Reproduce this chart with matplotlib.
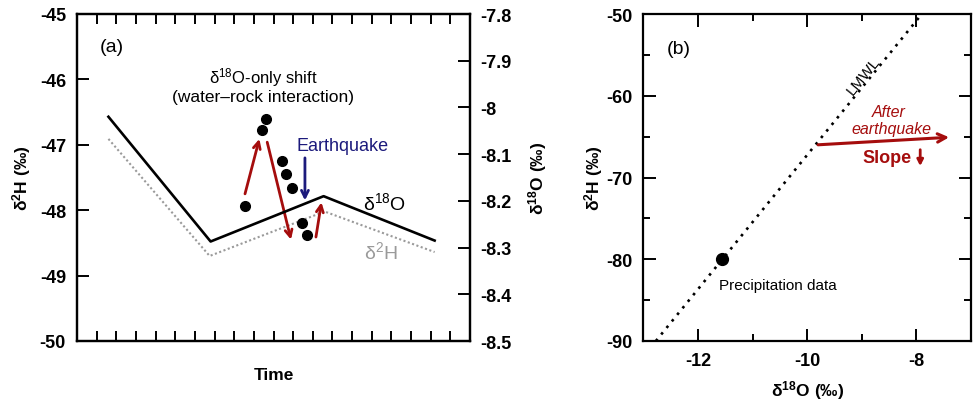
import matplotlib
matplotlib.use("Agg")
import matplotlib.pyplot as plt
from matplotlib.ticker import MultipleLocator, FixedLocator

plt.rcParams['font.family'] = ['Liberation Sans', 'DejaVu Sans']
plt.rcParams['mathtext.fontset'] = 'custom'
plt.rcParams['mathtext.rm'] = 'Liberation Sans'
plt.rcParams['mathtext.it'] = 'Liberation Sans:italic'
plt.rcParams['mathtext.bf'] = 'Liberation Sans:bold'
plt.rcParams['axes.unicode_minus'] = False

# ---------------- data: panel (a) ----------------
time_o18 = [1.6, 6.8, 12.55, 18.2]
o18_line = [-8.02, -8.287, -8.19, -8.285]          # right axis (δ18O)
time_h2 = [1.6, 6.75, 12.6, 18.2]
h2_line = [-46.91, -48.70, -48.02, -48.64]         # left axis (δ2H)
dots_time = [8.57, 9.41, 9.62, 10.43, 10.66, 10.94, 11.45, 11.71]
dots_o18 = [-8.210, -8.049, -8.024, -8.115, -8.143, -8.173, -8.248, -8.274]
# annotation arrows (tail -> tip), left-axis coordinates
red_arrows_a = [((8.55, -47.75), (9.28, -46.91)),
                ((9.68, -46.96), (10.89, -48.45)),
                ((12.16, -48.41), (12.44, -47.88))]
quake_arrow = ((11.60, -47.20), (11.60, -47.85))

# ---------------- data: panel (b) ----------------
lmwl_x = [-12.77, -7.90]
lmwl_y = [-90.0, -50.0]
precip_x = [-11.55]
precip_y = [-80.0]
after_arrow = ((-9.80, -66.0), (-7.40, -65.08))
slope_arrow = ((-7.93, -66.6), (-7.93, -68.6))

RED = '#A50D0D'
NAVY = '#1C1A7C'
GREY = '#9A9A9A'

fig = plt.figure(figsize=(9.75, 4.02), dpi=100)

# ================= panel (a) =================
axa = fig.add_axes([77/975, 60/402, 393/975, 327/402])
axa.set_xlim(0, 20)
axa.set_ylim(-50, -45)
axb2 = axa.twinx()
axb2.set_ylim(-8.5, -7.8)

axa.plot(time_h2, h2_line, color=GREY, lw=1.5, ls=(0, (1, 1.2)))
axb2.plot(time_o18, o18_line, color='black', lw=1.9)
axb2.plot(dots_time, dots_o18, 'o', color='black', ms=7)

for (t, h) in red_arrows_a:
    axa.annotate('', xy=h, xytext=t,
                 arrowprops=dict(arrowstyle='->,head_length=0.5,head_width=0.25',
                                 color=RED, lw=2, shrinkA=0, shrinkB=0))
axa.annotate('', xy=quake_arrow[1], xytext=quake_arrow[0],
             arrowprops=dict(arrowstyle='->,head_length=0.5,head_width=0.25',
                             color=NAVY, lw=2, shrinkA=0, shrinkB=0))

axa.text(1.78, -45.50, '(a)', fontsize=14, ha='center', va='center')
axa.text(9.47, -45.96, 'δ$^{18}$O-only shift', fontsize=12, ha='center', va='center')
axa.text(9.47, -46.26, '(water–rock interaction)', fontsize=12.5, ha='center', va='center')
axa.text(13.49, -47.01, 'Earthquake', fontsize=13, color=NAVY, ha='center', va='center')
axa.text(15.67, -47.88, 'δ$^{18}$O', fontsize=14, ha='center', va='center')
axa.text(15.47, -48.63, 'δ$^{2}$H', fontsize=14, color=GREY, ha='center', va='center')

axa.xaxis.set_major_locator(FixedLocator(list(range(1, 20))))
axa.tick_params(axis='x', which='both', direction='in', top=True, bottom=True,
                length=7, width=1.4, labelbottom=False)
axa.yaxis.set_major_locator(MultipleLocator(1))
axa.tick_params(axis='y', direction='in', length=8.5, width=1.4, right=False,
                labelsize=13, pad=8)
axb2.tick_params(axis='y', direction='in', length=9, width=1.4,
                 labelsize=13, pad=7.5)
axb2.set_yticks([-8.5, -8.4, -8.3, -8.2, -8.1, -8.0, -7.9, -7.8])
axb2.set_yticklabels(['-8.5', '-8.4', '-8.3', '-8.2', '-8.1', '-8', '-7.9', '-7.8'])
for lab in axa.get_yticklabels() + axb2.get_yticklabels():
    lab.set_fontweight('bold')
for ax in (axa, axb2):
    for s in ax.spines.values():
        s.set_linewidth(1.6)

axa.set_xlabel('Time', fontsize=12.5, fontweight='bold')
axa.xaxis.set_label_coords(0.5, -0.101)
axa.xaxis.label.set_va('center')
axa.set_ylabel('δ$^{\\mathbf{2}}$H (‰)', fontsize=12.5, fontweight='bold')
axa.yaxis.set_label_coords(-0.112, 0.5)
axb2.set_ylabel('δ$^{\\mathbf{18}}$O (‰)', fontsize=12.5, fontweight='bold')
axb2.yaxis.set_label_coords(1.143, 0.5)

# ================= panel (b) =================
axb = fig.add_axes([643.3/975, 60/402, 327.7/975, 327/402])
axb.set_xlim(-13, -7)
axb.set_ylim(-90, -50)
axb.plot(lmwl_x, lmwl_y, color='black', lw=1.9, ls=(0, (1, 2.2)))
axb.plot(precip_x, precip_y, 'o', color='black', ms=8.5)
axb.annotate('', xy=after_arrow[1], xytext=after_arrow[0],
             arrowprops=dict(arrowstyle='->,head_length=0.6,head_width=0.3',
                             color=RED, lw=2.2, shrinkA=0, shrinkB=0))
axb.annotate('', xy=slope_arrow[1], xytext=slope_arrow[0],
             arrowprops=dict(arrowstyle='-|>,head_length=0.35,head_width=0.18',
                             color=RED, lw=2, shrinkA=0, shrinkB=0))

axb.text(-12.36, -54.28, '(b)', fontsize=14, ha='center', va='center')
axb.text(-8.974, -57.55, 'LMWL', fontsize=11, ha='center', va='center', rotation=51)
axb.text(-8.50, -61.95, 'After', fontsize=11.5, style='italic', color=RED,
         ha='center', va='center')
axb.text(-8.46, -63.98, 'earthquake', fontsize=11.5, style='italic', color=RED,
         ha='center', va='center')
axb.text(-8.53, -67.53, 'Slope', fontsize=13, fontweight='bold', color=RED,
         ha='center', va='center')
axb.text(-10.54, -83.15, 'Precipitation data', fontsize=11, ha='center', va='center')

axb.xaxis.set_major_locator(MultipleLocator(2))
axb.xaxis.set_minor_locator(MultipleLocator(1))
axb.yaxis.set_major_locator(MultipleLocator(10))
axb.yaxis.set_minor_locator(MultipleLocator(5))
axb.tick_params(which='both', direction='in', top=True, right=True, width=1.4)
axb.tick_params(which='major', length=9, labelsize=13, pad=8)
axb.tick_params(which='minor', length=5)
for lab in axb.get_xticklabels() + axb.get_yticklabels():
    lab.set_fontweight('bold')
for s in axb.spines.values():
    s.set_linewidth(1.6)
axb.set_xlabel('δ$^{\\mathbf{18}}$O (‰)', fontsize=12.5, fontweight='bold')
axb.xaxis.set_label_coords(0.5, -0.15)
axb.xaxis.label.set_va('center')
axb.set_ylabel('δ$^{\\mathbf{2}}$H (‰)', fontsize=12.5, fontweight='bold')
axb.yaxis.set_label_coords(-0.118, 0.5)

fig.savefig('out.png', dpi=100)
